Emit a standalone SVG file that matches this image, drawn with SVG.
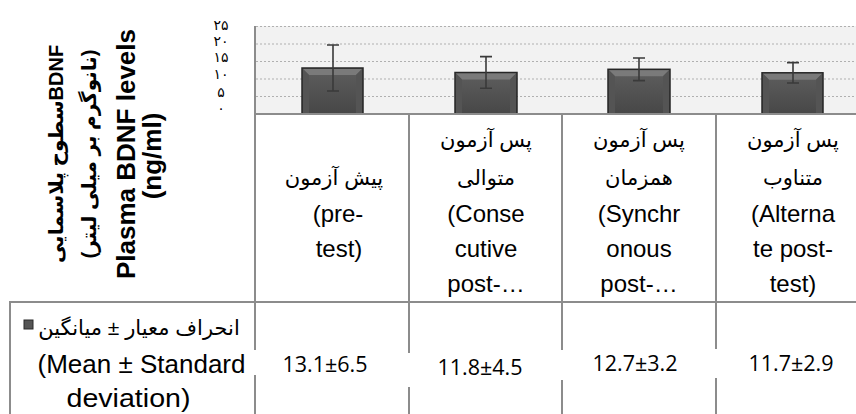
<svg xmlns="http://www.w3.org/2000/svg" width="856" height="414" viewBox="0 0 856 414">
<defs>
<linearGradient id="barg" x1="0" y1="0" x2="0" y2="1">
<stop offset="0" stop-color="#5e5e5e"/>
<stop offset="1" stop-color="#474747"/>
</linearGradient>
<style>
.grid{stroke:#b0b0b0;stroke-width:1.2;stroke-dasharray:2 2;fill:none}
.frame{stroke:#8c8c8c;stroke-width:2;fill:none}
.bar{fill:url(#barg);stroke:#262626;stroke-width:1.5}
.bevT{fill:#7a7a7a}
.bevS{fill:#545454}
.err{stroke:#3a3a3a;stroke-width:1.6;fill:none}
.lbl{font-family:"Liberation Sans","DejaVu Sans",sans-serif;font-size:24px;fill:#000;text-anchor:middle}
.leg{font-family:"Liberation Sans","DejaVu Sans",sans-serif;font-size:26px;fill:#000;text-anchor:middle}
.fa{font-family:"Liberation Sans","DejaVu Sans",sans-serif;font-size:21px;fill:#000;text-anchor:middle}
.ylab{font-family:"Liberation Sans","DejaVu Sans",sans-serif;font-size:26px;font-weight:bold;fill:#000;text-anchor:middle}
.ylabfa{font-family:"Liberation Sans","DejaVu Sans",sans-serif;font-size:20px;font-weight:bold;fill:#000;text-anchor:middle}
.tick{font-family:"DejaVu Sans","Liberation Sans",sans-serif;font-size:14px;fill:#000;text-anchor:middle}
.val{font-family:"Open Sans",Lato,sans-serif;font-size:21.5px;fill:#000;text-anchor:middle}
</style>
</defs>
<rect width="856" height="414" fill="#fff"/>

<g id="plot-area">
<rect x="255" y="26" width="601" height="88" fill="#f2f2f2"/>
<line class="grid" x1="256" y1="26.5" x2="856" y2="26.5"/>
<line class="grid" x1="256" y1="44" x2="856" y2="44"/>
<line class="grid" x1="256" y1="61.5" x2="856" y2="61.5"/>
<line class="grid" x1="256" y1="79" x2="856" y2="79"/>
<line class="grid" x1="256" y1="96.5" x2="856" y2="96.5"/>
</g>

<g id="y-axis-ticks">
<text class="tick" x="221" y="30">۲۵</text>
<text class="tick" x="221" y="46">۲۰</text>
<text class="tick" x="221" y="62">۱۵</text>
<text class="tick" x="221" y="79">۱۰</text>
<text class="tick" x="221" y="97">۵</text>
<text class="tick" x="221" y="113">۰</text>
</g>

<g id="y-axis-title">
<text class="ylabfa" direction="rtl" transform="translate(63,154) rotate(-90)">BDNFسطوح پلاسمایی</text>
<text class="ylabfa" direction="rtl" transform="translate(96,154) rotate(-90)">(نانوگرم بر میلی لیتر)</text>
<text class="ylab" transform="translate(135,154) rotate(-90)">Plasma BDNF levels</text>
<text class="ylab" transform="translate(161,156) rotate(-90)">(ng/ml)</text>
</g>

<g id="bar-pretest">
<rect class="bar" x="302" y="68" width="61" height="46"/>
<polygon class="bevT" points="303,69 362,69 356,75 309,75"/>
<polygon class="bevS" points="303,69 309,75 309,113 303,113"/>
<polygon class="bevS" points="362,69 356,75 356,113 362,113"/>
<path class="err" d="M333,45 V91 M327,45 H339 M327,91 H339"/>
</g>
<g id="bar-consecutive">
<rect class="bar" x="455" y="72.5" width="62" height="41.5"/>
<polygon class="bevT" points="456,73.5 516,73.5 510,79.5 462,79.5"/>
<polygon class="bevS" points="456,73.5 462,79.5 462,113 456,113"/>
<polygon class="bevS" points="516,73.5 510,79.5 510,113 516,113"/>
<path class="err" d="M486,56.6 V88.3 M480,56.6 H492 M480,88.3 H492"/>
</g>
<g id="bar-synchronous">
<rect class="bar" x="608" y="69.3" width="62" height="44.7"/>
<polygon class="bevT" points="609,70.3 669,70.3 663,76.3 615,76.3"/>
<polygon class="bevS" points="609,70.3 615,76.3 615,113 609,113"/>
<polygon class="bevS" points="669,70.3 663,76.3 663,113 669,113"/>
<path class="err" d="M639,58 V80.6 M633,58 H645 M633,80.6 H645"/>
</g>
<g id="bar-alternate">
<rect class="bar" x="762" y="72.8" width="61" height="41.2"/>
<polygon class="bevT" points="763,73.8 822,73.8 816,79.8 769,79.8"/>
<polygon class="bevS" points="763,73.8 769,79.8 769,113 763,113"/>
<polygon class="bevS" points="822,73.8 816,79.8 816,113 822,113"/>
<path class="err" d="M793,62.6 V83 M787,62.6 H799 M787,83 H799"/>
</g>

<g id="table-lines">
<line class="frame" x1="255" y1="26" x2="255" y2="350"/>
<line class="frame" x1="255" y1="375" x2="255" y2="414"/>
<line class="frame" x1="254" y1="114" x2="856" y2="114"/>
<line class="frame" x1="409" y1="114" x2="409" y2="353"/>
<line class="frame" x1="409" y1="387" x2="409" y2="414"/>
<line class="frame" x1="562" y1="114" x2="562" y2="350"/>
<line class="frame" x1="562" y1="380" x2="562" y2="414"/>
<line class="frame" x1="716" y1="114" x2="716" y2="349"/>
<line class="frame" x1="716" y1="378" x2="716" y2="414"/>
<line class="frame" x1="10" y1="302" x2="856" y2="302"/>
<line class="frame" x1="10" y1="301" x2="10" y2="414"/>
</g>

<g id="cat-pretest">
<text class="fa" x="334" y="185">پیش آزمون</text>
<text class="lbl" x="338" y="222">(pre-</text>
<text class="lbl" x="339" y="257">test)</text>
</g>
<g id="cat-consecutive">
<text class="fa" x="486" y="147">پس آزمون</text>
<text class="fa" x="486" y="185">متوالی</text>
<text class="lbl" x="486" y="222">(Conse</text>
<text class="lbl" x="486" y="257">cutive</text>
<text class="lbl" x="486" y="292">post-…</text>
</g>
<g id="cat-synchronous">
<text class="fa" x="639" y="147">پس آزمون</text>
<text class="fa" x="639" y="185">همزمان</text>
<text class="lbl" x="639" y="222">(Synchr</text>
<text class="lbl" x="639" y="257">onous</text>
<text class="lbl" x="639" y="292">post-…</text>
</g>
<g id="cat-alternate">
<text class="fa" x="793" y="147">پس آزمون</text>
<text class="fa" x="793" y="185">متناوب</text>
<text class="lbl" x="793" y="222">(Alterna</text>
<text class="lbl" x="793" y="257">te post-</text>
<text class="lbl" x="793" y="292">test)</text>
</g>

<g id="legend">
<rect x="24" y="320" width="9" height="9" fill="#555" stroke="#2a2a2a" stroke-width="1"/>
<text class="fa" x="139" y="335">انحراف معیار ± میانگین</text>
<text class="leg" x="141.5" y="373">(Mean ± Standard</text>
<text class="leg" x="128.5" y="407" textLength="124" lengthAdjust="spacingAndGlyphs">deviation)</text>
</g>

<g id="values">
<text class="val" x="325" y="372">13.1±6.5</text>
<text class="val" x="480" y="375">11.8±4.5</text>
<text class="val" x="635" y="371">12.7±3.2</text>
<text class="val" x="791" y="371">11.7±2.9</text>
</g>
</svg>
